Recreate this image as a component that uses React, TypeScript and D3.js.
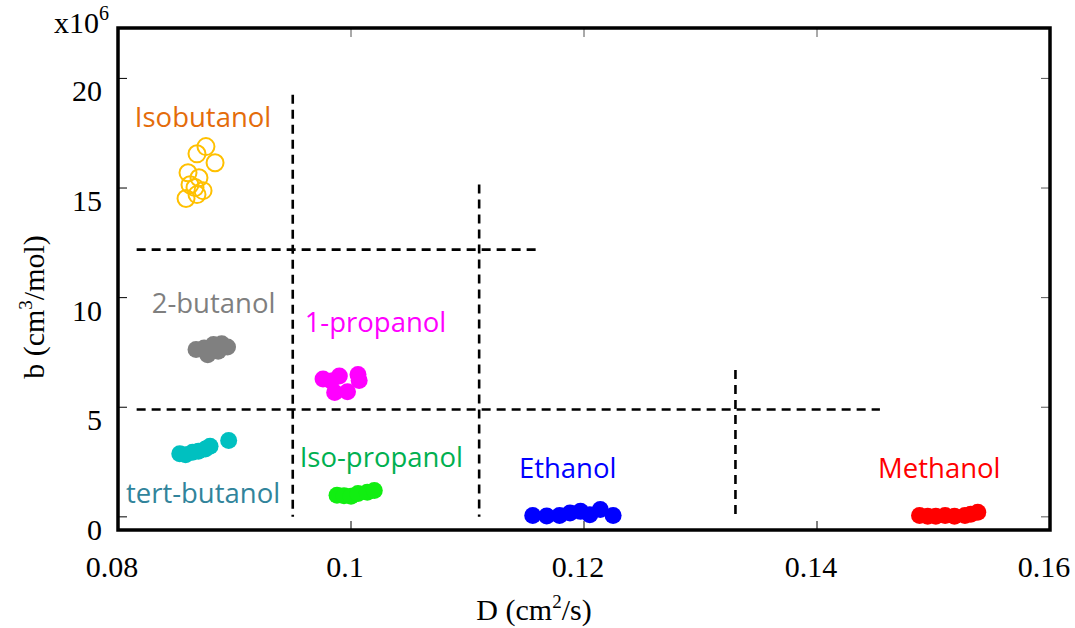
import React from 'react';
import * as d3 from 'd3';

// D (cm2/s), b (x10^6 cm3/mol) for each alcohol
const isobutanol: [number, number][] = [
  [0.08755, 16.89], [0.08678, 16.56], [0.08833, 16.15], [0.08601, 15.70], [0.08695, 15.47],
  [0.08618, 15.15], [0.08661, 15.02], [0.0873, 14.88], [0.08678, 14.70], [0.08584, 14.52],
];
const butanol2: [number, number][] = [
  [0.0867, 7.63], [0.0877, 7.40], [0.0882, 7.86], [0.0889, 7.90], [0.0894, 7.75], [0.0886, 7.55], [0.0874, 7.70],
];
const propanol1: [number, number][] = [
  [0.0976, 6.29], [0.0983, 6.20], [0.0990, 6.43], [0.0986, 5.67], [0.0997, 5.71], [0.1006, 6.49], [0.1007, 6.22],
];
const tertButanol: [number, number][] = [
  [0.0853, 2.88], [0.0858, 2.83], [0.0864, 2.95], [0.0869, 2.99], [0.0875, 3.10], [0.0879, 3.22], [0.0895, 3.48],
];
const isoPropanol: [number, number][] = [
  [0.0988, 0.98], [0.0994, 0.96], [0.1000, 0.94], [0.1006, 1.06], [0.1014, 1.12], [0.1020, 1.20],
];
const ethanol: [number, number][] = [
  [0.1156, 0.06], [0.1168, 0.04], [0.1179, 0.06], [0.1188, 0.18], [0.1197, 0.25], [0.1205, 0.10], [0.1214, 0.33], [0.1225, 0.06],
];
const methanol: [number, number][] = [
  [0.1488, 0.06], [0.1495, 0.03], [0.1502, 0.03], [0.1510, 0.06], [0.1518, 0.03], [0.1527, 0.06], [0.1532, 0.12], [0.1538, 0.21],
];

const xTicks = [0.08, 0.1, 0.12, 0.14, 0.16];
const yTicks = [0, 5, 10, 15, 20];

// dashed separators: [D1, b1, D2, b2]
const dashedLines: [number, number, number, number][] = [
  [0.095, 19.26, 0.095, 0.0],
  [0.111, 15.16, 0.111, 0.0],
  [0.133, 6.7, 0.133, -0.1],
  [0.0816, 12.19, 0.1162, 12.19],
  [0.0816, 4.9, 0.1454, 4.9],
];

const groups = [
  { name: 'Isobutanol', pts: isobutanol, color: '#FFC000', label: '#E46C0A', lx: 0.0873, ly: 17.8, open: true },
  { name: '2-butanol', pts: butanol2, color: '#808080', label: '#7F7F7F', lx: 0.0882, ly: 9.32, open: false },
  { name: '1-propanol', pts: propanol1, color: '#FF00FF', label: '#FF00FF', lx: 0.1021, ly: 8.45, open: false },
  { name: 'tert-butanol', pts: tertButanol, color: '#00C0C0', label: '#31849B', lx: 0.0873, ly: 0.65, open: false },
  { name: 'Iso-propanol', pts: isoPropanol, color: '#11EE11', label: '#00B050', lx: 0.1026, ly: 2.29, open: false },
  { name: 'Ethanol', pts: ethanol, color: '#0000FF', label: '#0000FF', lx: 0.1186, ly: 1.79, open: false },
  { name: 'Methanol', pts: methanol, color: '#FF0000', label: '#FF0000', lx: 0.1505, ly: 1.75, open: false },
];

export default function App() {
  const left = 118, right = 1050, top = 28, bottom = 530;
  const x = d3.scaleLinear().domain([0.08, 0.16]).range([left, right]);
  const y = d3.scaleLinear().domain([-0.6, 22.3]).range([bottom, top]);
  const serif = '"Liberation Serif", "Times New Roman", serif';
  const sans = '"Open Sans", "Noto Sans", sans-serif';
  const tick = 9;

  return (
    <svg width={1075} height={628} style={{ position: 'absolute', left: 0, top: 0, background: '#fff' }}>
      {/* ticks */}
      {xTicks.map(t => (
        <g key={'xt' + t}>
          <line x1={x(t)} x2={x(t)} y1={bottom} y2={bottom - tick} stroke="#000" strokeWidth={1} />
          <line x1={x(t)} x2={x(t)} y1={top} y2={top + tick} stroke="#555" strokeWidth={1} />
          <text x={x(t) - 6} y={577} textAnchor="middle" fontFamily={serif} fontSize={30}>{d3.format('')(t)}</text>
        </g>
      ))}
      {yTicks.map(t => (
        <g key={'yt' + t}>
          <line x1={left} x2={left + tick} y1={y(t)} y2={y(t)} stroke="#000" strokeWidth={1} />
          <line x1={right} x2={right - tick} y1={y(t)} y2={y(t)} stroke="#555" strokeWidth={1} />
          <text x={102} y={y(t) + 23} textAnchor="end" fontFamily={serif} fontSize={30}>{t}</text>
        </g>
      ))}

      {/* dashed separators */}
      {dashedLines.map((l, i) => (
        <line key={'dl' + i} x1={x(l[0])} y1={y(l[1])} x2={x(l[2])} y2={y(l[3])}
          stroke="#000" strokeWidth={2.6} strokeDasharray="9,6" />
      ))}

      {/* points */}
      {groups.map(g => (
        <g key={g.name}>
          {g.pts.map((p, i) => (
            <circle key={i} cx={x(p[0])} cy={y(p[1])} r={8.5}
              fill={g.open ? 'none' : g.color} stroke={g.color} strokeWidth={g.open ? 2 : 0} />
          ))}
          <text x={x(g.lx)} y={y(g.ly)} textAnchor="middle" fill={g.label} fontFamily={sans} fontSize={27.5}>{g.name}</text>
        </g>
      ))}

      {/* frame */}
      <rect x={left} y={top} width={right - left} height={bottom - top} fill="none" stroke="#000" strokeWidth={3.5} />

      {/* axis labels */}
      <text x={54} y={33} fontFamily={serif} fontSize={30}>x10<tspan dy={-13} fontSize={20}>6</tspan></text>
      <text x={534} y={620} textAnchor="middle" fontFamily={serif} fontSize={30}>
        D (cm<tspan dy={-12} fontSize={19}>2</tspan><tspan dy={12}>/s)</tspan>
      </text>
      <text transform="translate(44,307) rotate(-90)" textAnchor="middle" fontFamily={serif} fontSize={30}>
        b (cm<tspan dy={-12} fontSize={19}>3</tspan><tspan dy={12}>/mol)</tspan>
      </text>
    </svg>
  );
}
